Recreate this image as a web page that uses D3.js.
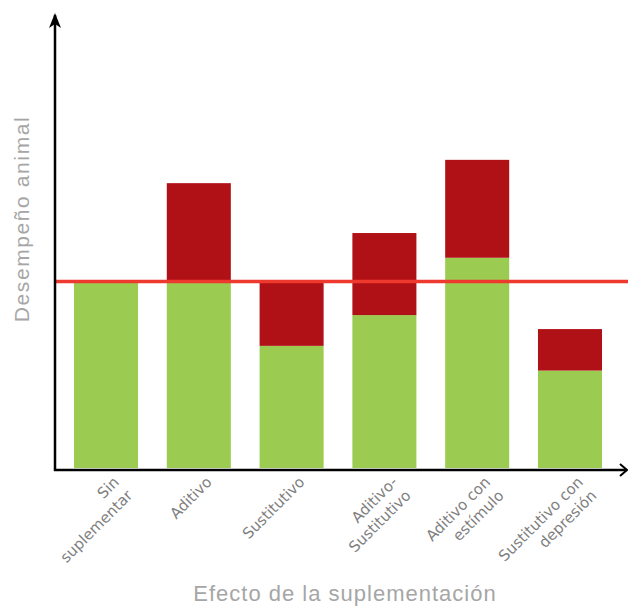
<!DOCTYPE html>
<html>
<head>
<meta charset="utf-8">
<script src="https://cdn.jsdelivr.net/npm/d3@7"></script>
<style>
  html, body { margin: 0; padding: 0; background: #fff; }
  svg { display: block; }
</style>
</head>
<body>
<svg id="chart" width="628" height="608"></svg>
<script>
// ---- data ----
const categories = ["Sin suplementar", "Aditivo", "Sustitutivo", "Aditivo-Sustitutivo", "Aditivo con estímulo", "Sustitutivo con depresión"];
const labelLines = [["Sin", "suplementar"], ["Aditivo"], ["Sustitutivo"], ["Aditivo-", "Sustitutivo"], ["Aditivo con", "estímulo"], ["Sustitutivo con", "depresión"]];
const baseValues = [40, 40, 26.2, 32.8, 45.1, 20.9];
const effectValues = [0, 21.1, 13.8, 17.6, 21.0, 8.9];
const referenceValue = 40;
const yMax = 97.6;
const xTitle = "Efecto de la suplementación";
const yTitle = "Desempeño animal";

// ---- layout ----
const svg = d3.select("#chart");
const axisX = 55, baseY = 468, topY = 13, rightX = 628;

const rows = categories.map((c, i) => ({ cat: c, base: baseValues[i], effect: effectValues[i] }));
const series = d3.stack().keys(["base", "effect"])(rows);
const colors = { base: "#9bcb50", effect: "#b01117" };

const x = d3.scaleBand().domain(categories).range([74, 602]).paddingInner(0.31).paddingOuter(0);
const y = d3.scaleLinear().domain([0, yMax]).range([baseY, topY]);

// bars
svg.append("g").selectAll("g").data(series).join("g")
  .attr("fill", d => colors[d.key])
  .selectAll("rect").data(d => d.map(v => ({ v, cat: v.data.cat }))).join("rect")
  .attr("x", d => x(d.cat))
  .attr("width", x.bandwidth())
  .attr("y", d => y(d.v[1]))
  .attr("height", d => Math.max(0, y(d.v[0]) - y(d.v[1])));

// reference line
svg.append("line")
  .attr("x1", axisX).attr("x2", rightX)
  .attr("y1", y(referenceValue)).attr("y2", y(referenceValue))
  .attr("stroke", "#ee3a2e").attr("stroke-width", 3.5);

// axes
const defs = svg.append("defs");
defs.append("marker").attr("id", "arrUp")
  .attr("viewBox", "0 0 12 14").attr("refX", 6).attr("refY", 1)
  .attr("markerWidth", 12).attr("markerHeight", 14).attr("markerUnits", "userSpaceOnUse")
  .attr("orient", "auto-start-reverse")
  .append("path").attr("d", "M6,0 L12,14 L6,10 L0,14 Z").attr("fill", "#000");

svg.append("line")
  .attr("x1", axisX).attr("x2", axisX)
  .attr("y1", baseY + 3).attr("y2", y(yMax) + 2)
  .attr("stroke", "#000").attr("stroke-width", 2.5);
svg.append("path")
  .attr("d", `M${axisX},${y(yMax)} L${axisX + 6},${y(yMax) + 15} L${axisX},${y(yMax) + 11} L${axisX - 6},${y(yMax) + 15} Z`)
  .attr("fill", "#000");

svg.append("line")
  .attr("x1", axisX - 1).attr("x2", rightX - 2)
  .attr("y1", baseY + 2).attr("y2", baseY + 2)
  .attr("stroke", "#000").attr("stroke-width", 2.5);
svg.append("path")
  .attr("d", `M${rightX - 8},${baseY - 4} L${rightX - 1},${baseY + 2} L${rightX - 8},${baseY + 8}`)
  .attr("fill", "none").attr("stroke", "#000").attr("stroke-width", 2);

// category labels
const lab = svg.append("g").selectAll("g").data(categories).join("g")
  .attr("transform", d => `translate(${x(d) + x.bandwidth() / 2 + 14},${baseY + 15}) rotate(-45)`);
lab.append("text")
  .attr("text-anchor", "end")
  .attr("font-family", "DejaVu Sans, Verdana, sans-serif")
  .attr("font-size", 15)
  .attr("fill", "#7f7f7f")
  .selectAll("tspan").data((d, i) => labelLines[i]).join("tspan")
  .attr("x", 0)
  .attr("dy", (d, j) => j === 0 ? 0 : 19)
  .text(d => d);

// axis titles
svg.append("text")
  .attr("x", 345).attr("y", 601)
  .attr("text-anchor", "middle")
  .attr("font-family", "Liberation Sans, Arial, sans-serif")
  .attr("font-size", 22)
  .attr("letter-spacing", 1)
  .attr("fill", "#a6a6a6")
  .text(xTitle);

svg.append("text")
  .attr("transform", `translate(29,219) rotate(-90)`)
  .attr("text-anchor", "middle")
  .attr("font-family", "Liberation Sans, Arial, sans-serif")
  .attr("font-size", 21)
  .attr("letter-spacing", 1.6)
  .attr("fill", "#a6a6a6")
  .text(yTitle);
</script>
</body>
</html>
